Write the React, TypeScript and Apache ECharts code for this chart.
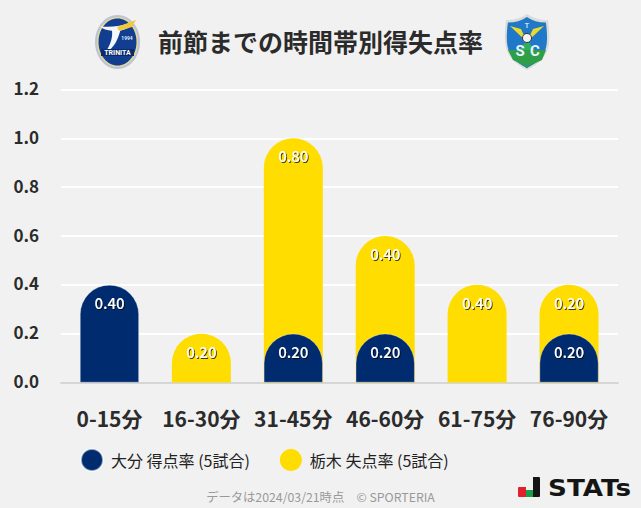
import React, { useEffect, useRef } from "react";
import * as echarts from "echarts";

const categories = ["0-15分", "16-30分", "31-45分", "46-60分", "61-75分", "76-90分"];
const oitaScored = [0.4, 0, 0.2, 0.2, 0, 0.2];
const tochigiConceded = [0, 0.2, 0.8, 0.4, 0.4, 0.2];
const oitaName = "大分 得点率 (5試合)";
const tochigiName = "栃木 失点率 (5試合)";
const titleText = "前節までの時間帯別得失点率";
const footText = "データは2024/03/21時点　© SPORTERIA";

const NAVY = "#002c6f";
const YELLOW = "#ffdd00";
const FONT = '"Noto Sans CJK JP", "Noto Sans", sans-serif';

const shieldPath =
  "M2 6 C10 6 16 4 22 0 C28 4 34 6 42 6 C44 22 44 34 38 42 C33 49 27 52 22 55 C17 52 11 49 6 42 C0 34 0 22 2 6 Z";
const wingPath = "M0 6 C10 8 22 6 36 0 C33 6 30 10 22 12 C20 22 16 36 6 42 C12 30 14 20 13 12 C8 12 3 10 0 6 Z";
echarts.graphic.registerShape("shieldShape", (echarts.graphic as any).extendPath(shieldPath, {}));
echarts.graphic.registerShape("swooshShape", (echarts.graphic as any).extendPath(wingPath, {}));

function buildOption() {
  const stackedTop = tochigiConceded.map((v, i) => (v > 0 ? +(v + oitaScored[i]).toFixed(2) : null));
  const labelBase = {
    show: true,
    position: "insideTop" as const,
    distance: 10,
    color: "#fff",
    fontFamily: FONT,
    fontSize: 15,
    fontWeight: 500,
    textShadowColor: "rgba(0,0,0,0.75)",
    textShadowBlur: 1,
    textShadowOffsetX: 1,
    textShadowOffsetY: 1,
  };
  return {
    animation: false,
    backgroundColor: "#f1f1f1",
    textStyle: { fontFamily: FONT },
    grid: [
      { left: 63.5, width: 551.5, top: 89.5, height: 293 },
      { left: 61, width: 557, top: 89.5, height: 293 },
      { left: 61, width: 557, top: 87.5, height: 293 },
    ],
    xAxis: [
      {
        type: "category",
        gridIndex: 0,
        data: categories,
        axisLine: { show: false },
        axisTick: { show: false },
        axisLabel: { margin: 25, fontFamily: FONT, fontSize: 21, fontWeight: "bold", color: "#2b2b2b", interval: 0 },
      },
      {
        type: "category",
        gridIndex: 1,
        data: categories,
        axisLine: { show: true, lineStyle: { color: "#d6d6d6", width: 2 } },
        axisTick: { show: false },
        axisLabel: { show: false },
      },
      { type: "category", gridIndex: 2, data: categories, show: false },
    ],
    yAxis: [
      { type: "value", gridIndex: 0, min: 0, max: 1.2, interval: 0.2, show: false },
      {
        type: "value",
        gridIndex: 1,
        min: 0,
        max: 1.2,
        interval: 0.2,
        axisLine: { show: false },
        axisTick: { show: false },
        axisLabel: { show: false },
        splitLine: { show: true, lineStyle: { color: "#ffffff", width: 2 } },
      },
      {
        type: "value",
        gridIndex: 2,
        min: 0,
        max: 1.2,
        interval: 0.2,
        axisLine: { show: false },
        axisTick: { show: false },
        splitLine: { show: false },
        axisLabel: {
          margin: 22,
          align: "right",
          fontFamily: FONT,
          fontSize: 17,
          fontWeight: "bold",
          color: "#2b2b2b",
          formatter: (v: number) => v.toFixed(1),
        },
      },
    ],
    legend: {
      left: 80,
      top: 448,
      padding: 0,
      icon: "circle",
      itemWidth: 22,
      itemHeight: 22,
      itemGap: 30,
      data: [oitaName, tochigiName],
      textStyle: { fontFamily: FONT, fontSize: 16, color: "#222", padding: [0, 0, 0, 3] },
      selectedMode: false,
    },
    series: [
      {
        name: tochigiName,
        type: "bar",
        xAxisIndex: 0,
        yAxisIndex: 0,
        barWidth: 59,
        barGap: "-100%",
        data: stackedTop,
        itemStyle: { color: YELLOW, borderRadius: [30, 30, 0, 0] },
        label: {
          ...labelBase,
          formatter: (p: any) => tochigiConceded[p.dataIndex].toFixed(2),
        },
      },
      {
        name: oitaName,
        type: "bar",
        xAxisIndex: 0,
        yAxisIndex: 0,
        barWidth: 59,
        barGap: "-100%",
        data: oitaScored.map((v) => (v > 0 ? v : null)),
        itemStyle: { color: NAVY, borderRadius: [30, 30, 0, 0], borderColor: "rgba(255,255,255,0.55)", borderWidth: 0.6 },
        label: {
          ...labelBase,
          formatter: (p: any) => oitaScored[p.dataIndex].toFixed(2),
        },
      },
    ],
    graphic: [
      {
        type: "text",
        x: 320.5,
        y: 41,
        style: {
          text: titleText,
          fontFamily: FONT,
          fontSize: 25,
          fontWeight: "bold",
          fill: "#2b2b2b",
          align: "center",
          verticalAlign: "middle",
        },
      },
      {
        type: "text",
        x: 320.5,
        y: 497,
        style: { text: footText, fontFamily: FONT, fontSize: 12.3, fill: "#999", align: "center", verticalAlign: "middle" },
      },
      // Trinita crest
      {
        type: "group",
        children: [
          { type: "ellipse", shape: { cx: 117.5, cy: 42, rx: 22.5, ry: 27 }, style: { fill: "#b9c4dc" } },
          { type: "ellipse", shape: { cx: 117.5, cy: 42, rx: 20.5, ry: 25 }, style: { fill: "#e9d98e" } },
          { type: "ellipse", shape: { cx: 117.5, cy: 42, rx: 19, ry: 23.5 }, style: { fill: "#123e92" } },
          { type: "swooshShape", x: 100, y: 22, scaleX: 0.92, scaleY: 0.72, style: { fill: "#f4f7fb" } },
          { type: "polygon", shape: { points: [[117, 27], [136, 20], [132, 27], [119, 31]] }, style: { fill: "#f3c93c" } },
          {
            type: "text",
            x: 127,
            y: 38,
            style: { text: "1994", fontFamily: "Roboto", fontSize: 5, fontWeight: "bold", fill: "#dfe7f5", align: "center", verticalAlign: "middle" },
          },
          { type: "rect", shape: { x: 101, y: 49, width: 33, height: 7 }, style: { fill: "#0a2a6a" } },
          {
            type: "text",
            x: 117.5,
            y: 52.5,
            style: { text: "TRINITA", fontFamily: "Roboto", fontSize: 7, fontWeight: "bold", fill: "#fff", align: "center", verticalAlign: "middle" },
          },
        ],
      },
      // Tochigi crest
      {
        type: "group",
        children: [
          { type: "shieldShape", x: 504, y: 14, scaleX: 1.05, scaleY: 1.02, style: { fill: "#d9dcd9" } },
          { type: "shieldShape", x: 506, y: 17, scaleX: 0.95, scaleY: 0.93, style: { fill: "#1f78c8" } },
          { type: "polygon", shape: { points: [[508, 50], [546, 50], [542, 60], [527, 67], [513, 60]] }, style: { fill: "#2f9e48" } },
          { type: "polygon", shape: { points: [[527, 40], [519, 50], [535, 50]] }, style: { fill: "#2fae62" } },
          { type: "polygon", shape: { points: [[527, 42], [510, 26], [521, 29]] }, style: { fill: "#ecd92f" } },
          { type: "polygon", shape: { points: [[527, 42], [544, 26], [533, 29]] }, style: { fill: "#ecd92f" } },
          { type: "circle", shape: { cx: 527, cy: 38, r: 4.5 }, style: { fill: "#f5f5f0", stroke: "#334", lineWidth: 1 } },
          {
            type: "text",
            x: 527,
            y: 25,
            style: { text: "T", fontFamily: "Roboto", fontSize: 8, fill: "#fff", align: "center", verticalAlign: "middle" },
          },
          {
            type: "text",
            x: 520,
            y: 51,
            style: { text: "S", fontFamily: "Roboto", fontSize: 15, fontWeight: "bold", fill: "#e8f4ff", align: "center", verticalAlign: "middle" },
          },
          {
            type: "text",
            x: 535,
            y: 51,
            style: { text: "C", fontFamily: "Roboto", fontSize: 15, fontWeight: "bold", fill: "#e8f4ff", align: "center", verticalAlign: "middle" },
          },
        ],
      },
      // STATs mark
      {
        type: "group",
        children: [
          { type: "rect", shape: { x: 518, y: 487, width: 8, height: 10, r: [1, 0, 0, 1] }, style: { fill: "#e0202a" } },
          { type: "rect", shape: { x: 526, y: 490, width: 7, height: 7 }, style: { fill: "#1b9e4b" } },
          { type: "rect", shape: { x: 533, y: 477, width: 7, height: 20, r: [0, 1, 1, 0] }, style: { fill: "#151515" } },
          {
            type: "text",
            x: 548,
            y: 488,
            scaleX: 1.14,
            style: { text: "STATs", fontFamily: "DejaVu Sans", fontSize: 23, fontWeight: "bold", fill: "#151515", align: "left", verticalAlign: "middle" },
          },
        ],
      },
    ],
  };
}

export default function App() {
  const ref = useRef<HTMLDivElement>(null);
  useEffect(() => {
    document.body.style.margin = "0";
    document.body.style.background = "#f1f1f1";
    const chart = echarts.init(ref.current!, undefined, { renderer: "svg" });
    chart.setOption(buildOption() as any);
    return () => chart.dispose();
  }, []);
  return <div ref={ref} style={{ width: 641, height: 508 }} />;
}
